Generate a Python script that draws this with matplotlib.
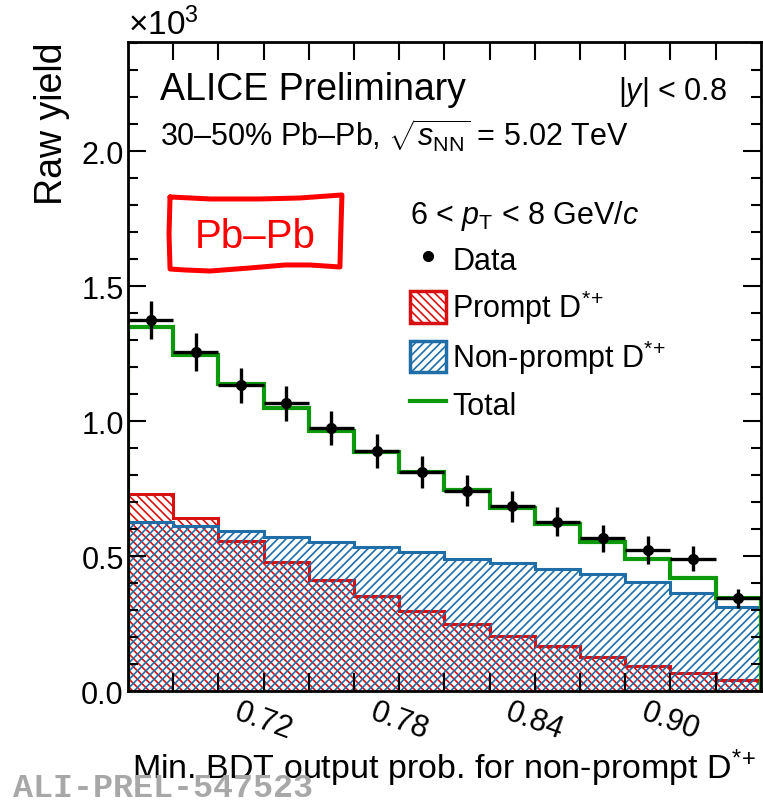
import numpy as np
import matplotlib
matplotlib.use('Agg')
import matplotlib.pyplot as plt
from matplotlib.lines import Line2D
from matplotlib.patches import Patch

plt.rcParams['font.family'] = 'Liberation Sans'
plt.rcParams['mathtext.fontset'] = 'custom'
plt.rcParams['mathtext.rm'] = 'Liberation Sans'
plt.rcParams['mathtext.it'] = 'Liberation Sans:italic'
plt.rcParams['hatch.linewidth'] = 1.2

# Binning der BDT-Ausgabe
bin_edges = np.linspace(0.66, 0.94, 15)

# Rohausbeuten
data_yield = [1374, 1257, 1133, 1066, 974, 890, 812, 742, 684, 628, 566, 523, 491, 343]
data_err = [70, 70, 65, 65, 63, 62, 60, 58, 56, 55, 51, 51, 47, 34]
prompt = [730, 641, 557, 479, 411, 351, 297, 248, 203, 166, 125, 94, 67, 42]
nonprompt = [628, 612, 592, 572, 553, 534, 514, 491, 474, 452, 433, 405, 362, 310]
total = [1349, 1244, 1137, 1047, 964, 884, 811, 744, 677, 619, 553, 491, 419, 343]

xtick_labels = ['0.72', '0.78', '0.84', '0.90']

red = '#d81010'
blue = '#1f6ea8'
green = '#0c9a0c'
dstar = r'D$^{*\!+}$'

centers = 0.5 * (bin_edges[1:] + bin_edges[:-1])
scale = 1e3

fig = plt.figure(figsize=(7.63, 8.03), dpi=100)
ax = fig.add_axes([0.1678, 0.1382, 0.8292, 0.8083])

# Prompt
ax.stairs(np.array(prompt) / scale, bin_edges, fill=True, facecolor='none',
          edgecolor=red, hatch='\\\\\\\\', linewidth=0)
ax.stairs(np.array(prompt) / scale, bin_edges, color=red, linewidth=2.2)
# Non-prompt
ax.stairs(np.array(nonprompt) / scale, bin_edges, fill=True, facecolor='none',
          edgecolor=blue, hatch='////', linewidth=0)
ax.stairs(np.array(nonprompt) / scale, bin_edges, color=blue, linewidth=2.2)
# Total
ax.stairs(np.array(total) / scale, bin_edges, color=green, linewidth=3)
# Daten
ax.errorbar(centers, np.array(data_yield) / scale, yerr=np.array(data_err) / scale,
            xerr=0.01, fmt='o', color='k', ms=7, elinewidth=2.4, capsize=0)

ax.set_xlim(bin_edges[0], bin_edges[-1])
ax.set_ylim(0, 2.405)

ticks = bin_edges[1:-1]
ax.set_xticks(ticks)
ax.set_xticklabels([f'{t:.2f}' if f'{t:.2f}' in xtick_labels else '' for t in ticks],
                   rotation=-20, ha='center')
ax.set_yticks(np.arange(0, 2.41, 0.5))
ax.set_yticklabels([f'{v:.1f}' for v in np.arange(0, 2.41, 0.5)])
ax.set_yticks(np.arange(0, 2.41, 0.1), minor=True)
ax.tick_params(which='both', direction='in', top=True, right=True, labelsize=22, width=1.5)
ax.tick_params(axis='y', which='major', length=13, pad=3)
ax.tick_params(axis='y', which='minor', length=7)
ax.tick_params(axis='x', which='major', length=13, pad=4)
for s in ax.spines.values():
    s.set_linewidth(2)

ax.set_xlabel('Min. BDT output prob. for non-prompt ' + dstar, fontsize=24.5, labelpad=1)
ax.set_ylabel('Raw yield', fontsize=27, loc='top', labelpad=8)

fig.text(0.168, 0.956, r'$\times$10$^3$', fontsize=24)

# Beschriftungen
ax.text(0.05, 0.912, 'ALICE Preliminary', transform=ax.transAxes, fontsize=27)
ax.text(0.946, 0.912, r'|$y$| < 0.8', transform=ax.transAxes, fontsize=22, ha='right')
ax.text(0.05, 0.84, r'30–50% Pb–Pb, $\sqrt{s_{\mathrm{NN}}}$ = 5.02 TeV',
        transform=ax.transAxes, fontsize=22)

# Pb-Pb Kasten (handgezeichnet)
box_x = [0.0664, 0.1295, 0.2085, 0.2717, 0.3381, 0.3365, 0.3349, 0.2875, 0.248,
         0.1927, 0.1295, 0.09, 0.0664, 0.0648, 0.0664]
box_y = [0.7612, 0.7581, 0.7581, 0.7596, 0.7643, 0.7119, 0.6533, 0.6564, 0.6564,
         0.6518, 0.6471, 0.6487, 0.6502, 0.7042, 0.7612]
ax.plot(box_x, box_y, transform=ax.transAxes, color='red', lw=3.6,
        solid_joinstyle='round', solid_capstyle='round')
ax.text(0.2006, 0.701, 'Pb–Pb', transform=ax.transAxes, fontsize=29, color='red',
        ha='center', va='center')

# Legende
handles = [
    Line2D([], [], marker='o', color='k', ls='none', ms=7),
    Patch(facecolor='none', edgecolor=red, hatch='\\\\\\\\', linewidth=2.5),
    Patch(facecolor='none', edgecolor=blue, hatch='////', linewidth=2.5),
    Line2D([], [], color=green, lw=3),
]
labels = ['Data', 'Prompt ' + dstar, 'Non-prompt ' + dstar, 'Total']
leg = ax.legend(handles, labels, loc='upper left', bbox_to_anchor=(0.445, 0.76),
                frameon=False, fontsize=22, title=r'6 < $p_{\mathrm{T}}$ < 8 GeV/$c$',
                title_fontsize=22, alignment='left', handlelength=1.2, handleheight=1.2,
                handletextpad=0.2, labelspacing=0.38, borderpad=0, borderaxespad=0)

fig.text(0.017, 0.008, 'ALI-PREL-547523', family='Liberation Mono', weight='bold',
         color='#a8a8a8', fontsize=24)

fig.savefig('out.png', dpi=100)
